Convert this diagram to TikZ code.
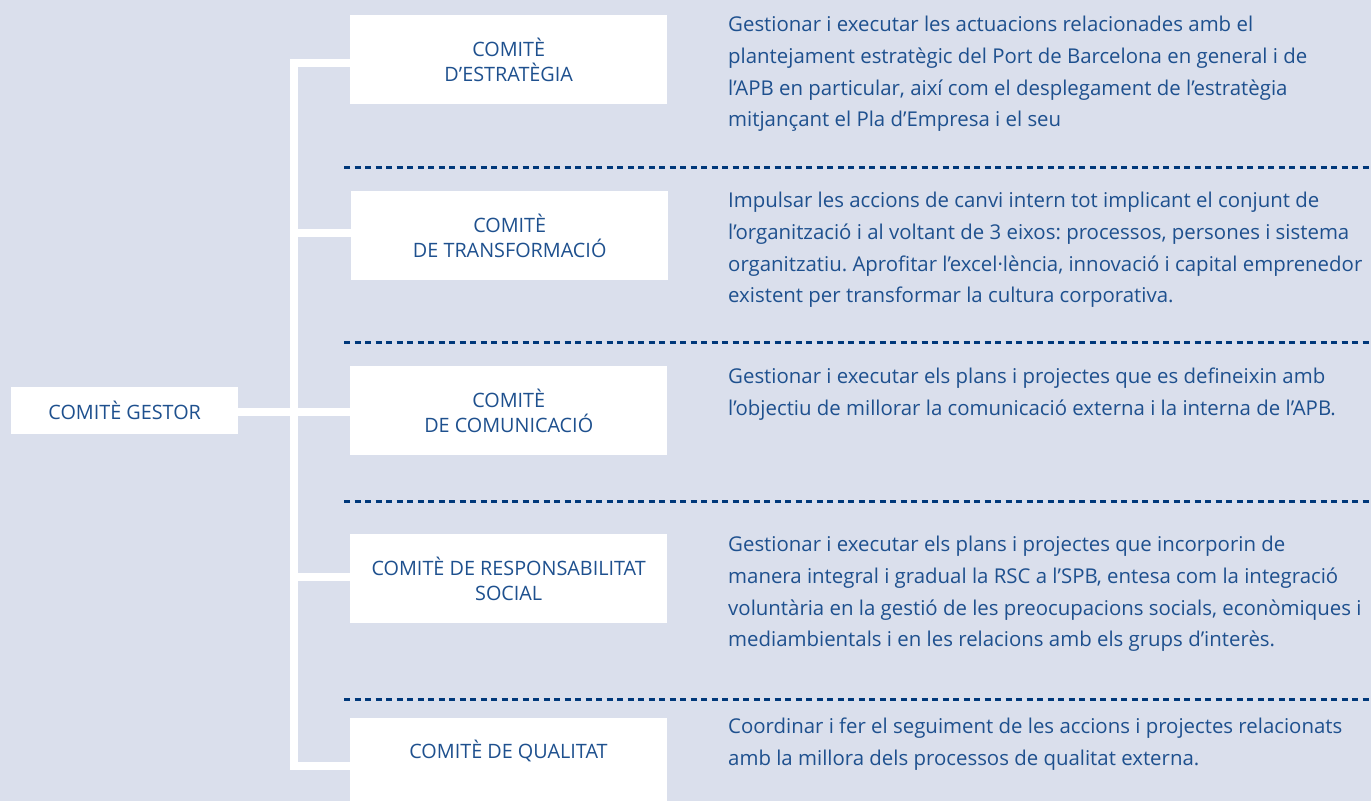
\documentclass[tikz,border=0pt]{standalone}
\usepackage{fontspec}
\setmainfont{Open Sans}
\frenchspacing
\definecolor{bgc}{RGB}{218,223,236}
\definecolor{txc}{RGB}{30,80,142}
\definecolor{dotc}{RGB}{0,56,122}
\begin{document}
\begin{tikzpicture}[x=1pt,y=-1pt,
  comitebox/.style={fill=white,draw=none,minimum width=317pt,minimum height=89pt,anchor=north west,inner sep=0pt,align=center,text=txc,font=\fontsize{19.8}{25}\selectfont},
  conn/.style={draw=white,line width=8pt},
  sep/.style={draw=dotc,line width=3pt,dash pattern=on 6pt off 4.5pt},
  desc/.style={anchor=north west,inner sep=0pt,align=left,text=txc,font=\fontsize{20.4}{31.7}\selectfont}]
\useasboundingbox (0,0) rectangle (1371,801);
\fill[bgc] (0,0) rectangle (1371,801);
\coordinate (vt) at (294,63);
\coordinate (vb) at (294,766);
\coordinate (s1a) at (344,167); \coordinate (s1b) at (1371,167);
\coordinate (s2a) at (344,342); \coordinate (s2b) at (1371,342);
\coordinate (s3a) at (344,501); \coordinate (s3b) at (1371,501);
\coordinate (s4a) at (344,699); \coordinate (s4b) at (1371,699);
\node[comitebox] (b1) at (350,15) {COMITÈ\\D’ESTRATÈGIA};
\node[comitebox] (b2) at (351,191) {COMITÈ\\DE TRANSFORMACIÓ};
\node[comitebox] (b3) at (350,366) {COMITÈ\\DE COMUNICACIÓ};
\node[comitebox] (b4) at (350,534) {COMITÈ DE RESPONSABILITAT\\SOCIAL};
\node[comitebox,minimum height=100pt] (b5) at (350,718) {};
\node[anchor=center,text=txc,font=\fontsize{19.8}{25}\selectfont,inner sep=0pt] (b5t) at (508.5,751) {COMITÈ DE QUALITAT};
\node[fill=white,minimum width=227pt,minimum height=47pt,inner sep=0pt,anchor=north west,text=txc,font=\fontsize{19.8}{25}\selectfont] (g) at (11,387) {COMITÈ GESTOR};
\draw[conn,line join=miter] (b1.west |- vt) -- (vt) -- (vb) -- (b5.west |- vb);
\draw[conn] (g.east |- 0,412) -- (b3.west |- 0,412);
\draw[conn] (vt |- 0,233) -- (b2.west |- 0,233);
\draw[conn] (vt |- 0,577) -- (b4.west |- 0,577);
\draw[sep] (s1a) -- (s1b);
\draw[sep] (s2a) -- (s2b);
\draw[sep] (s3a) -- (s3b);
\draw[sep] (s4a) -- (s4b);
\node[desc] (d1) at (728,16) {Gestionar i executar les actuacions relacionades amb el\\plantejament estratègic del Port de Barcelona en general i de\\l’APB en particular, així com el desplegament de l’estratègia\\mitjançant el Pla d’Empresa i el seu};
\node[desc] (d2) at (728,192) {Impulsar les accions de canvi intern tot implicant el conjunt de\\l’organització i al voltant de 3 eixos: processos, persones i sistema\\organitzatiu. Aprofitar l’excel·lència, innovació i capital emprenedor\\existent per transformar la cultura corporativa.};
\node[desc] (d3) at (728,368) {Gestionar i executar els plans i projectes que es defineixin amb\\l’objectiu de millorar la comunicació externa i la interna de l’APB.};
\node[desc] (d4) at (728,536) {Gestionar i executar els plans i projectes que incorporin de\\manera integral i gradual la RSC a l’SPB, entesa com la integració\\voluntària en la gestió de les preocupacions socials, econòmiques i\\mediambientals i en les relacions amb els grups d’interès.};
\node[desc] (d5) at (728,718) {Coordinar i fer el seguiment de les accions i projectes relacionats\\amb la millora dels processos de qualitat externa.};
\end{tikzpicture}
\end{document}
